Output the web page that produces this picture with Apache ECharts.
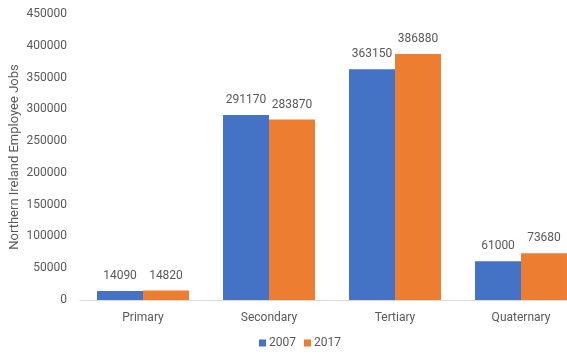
<!DOCTYPE html>
<html>
<head>
<meta charset="utf-8">
<style>
  html, body { margin: 0; padding: 0; background: #ffffff; }
  #chart { width: 567px; height: 355px; }
</style>
<script src="https://cdn.jsdelivr.net/npm/echarts@6/dist/echarts.min.js"></script>
</head>
<body>
<div id="chart"></div>
<script>
// Employee jobs in Northern Ireland by economic sector
const sectors = ['Primary', 'Secondary', 'Tertiary', 'Quaternary'];
const jobs2007 = [14090, 291170, 363150, 61000];
const jobs2017 = [14820, 283870, 386880, 73680];
const seriesNames = ['2007', '2017'];

const textColor = '#595959';
const fontFamily = 'Roboto, "DejaVu Sans", sans-serif';

const chart = echarts.init(document.getElementById('chart'), null, { renderer: 'canvas' });

chart.setOption({
  animation: false,
  backgroundColor: '#ffffff',
  textStyle: { fontFamily: fontFamily, color: textColor },
  // the plot runs on past the right edge, so the last bar is cut off
  grid: {
    left: 80, top: 14, right: -17, bottom: 55,
    containLabel: false,
    outerBoundsMode: 'none'
  },
  legend: {
    data: seriesNames,
    left: 254,
    bottom: 1,
    itemWidth: 7,
    itemHeight: 7,
    itemGap: 8,
    icon: 'rect',
    textStyle: { color: textColor, fontSize: 12, fontFamily: fontFamily, padding: [0, 0, 0, -2] }
  },
  xAxis: {
    type: 'category',
    data: sectors,
    axisLine: { show: true, lineStyle: { color: '#d9d9d9', width: 1 } },
    axisTick: { show: false },
    axisLabel: { color: textColor, fontSize: 12, margin: 12, fontFamily: fontFamily },
    splitLine: { show: false }
  },
  yAxis: {
    type: 'value',
    min: 0,
    max: 450000,
    interval: 50000,
    name: 'Northern Ireland Employee Jobs',
    nameLocation: 'middle',
    nameGap: 59,
    nameMoveOverlap: false,
    nameTextStyle: { color: textColor, fontSize: 13, fontFamily: fontFamily },
    axisLine: { show: false },
    axisTick: { show: false },
    splitLine: { show: false },
    axisLabel: {
      color: textColor,
      fontSize: 12,
      margin: 13,
      fontFamily: fontFamily,
      formatter: function (v) { return String(v); }
    }
  },
  series: [
    {
      name: seriesNames[0],
      type: 'bar',
      data: jobs2007,
      barGap: '0%',
      barCategoryGap: '27%',
      itemStyle: { color: '#4472c4' },
      label: { show: true, position: 'top', distance: 9, color: textColor, fontSize: 12, fontFamily: fontFamily }
    },
    {
      name: seriesNames[1],
      type: 'bar',
      data: jobs2017,
      barGap: '0%',
      barCategoryGap: '27%',
      itemStyle: { color: '#ed7d31' },
      label: { show: true, position: 'top', distance: 9, color: textColor, fontSize: 12, fontFamily: fontFamily }
    }
  ]
});
</script>
</body>
</html>
